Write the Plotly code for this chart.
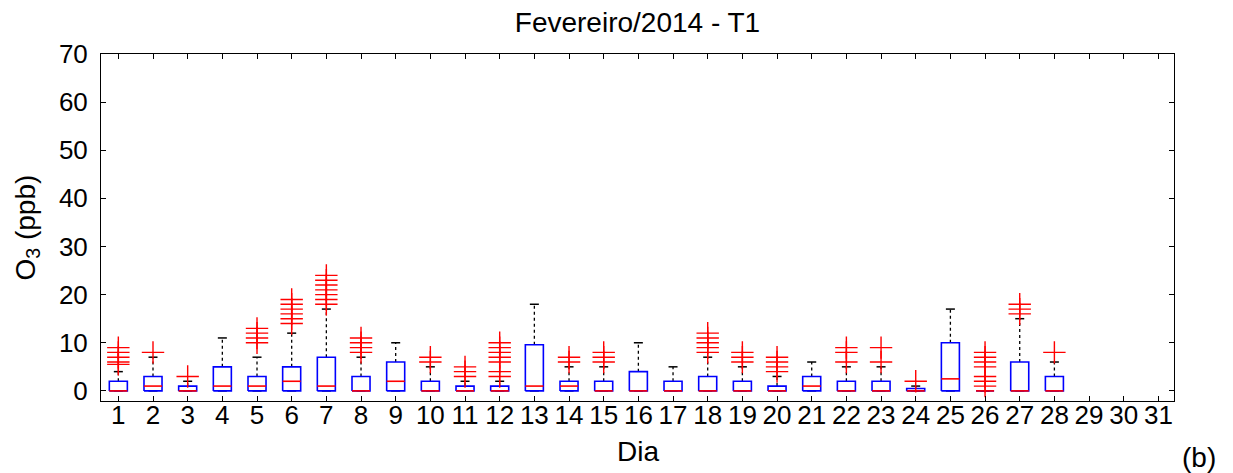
import plotly.graph_objects as go

# ---------------- data ----------------
days = list(range(1, 32))
box_days = list(range(1, 29))
q1 = [0] * 28
median = [0, 1, 0, 1, 1, 2, 1, 0, 2, 0, 0, 0, 1, 1, 0, 0, 0, 0, 0, 0, 1, 0, 0, 0, 2.5, 0, 0, 0]
q3 = [2, 3, 1, 5, 3, 5, 7, 3, 6, 2, 1, 1, 9.6, 2, 2, 4, 2, 3, 2, 1, 3, 2, 2, 0.5, 10, 0, 6, 3]
upper_whisker = [4, 7, 2, 11, 7, 12, 17, 7, 10, 5, 2, 2, 18, 5, 5, 10, 5, 7, 5, 3, 6, 5, 5, 1, 17, 0, 15, 6]
lower_whisker = [0] * 28
outliers = {
    1: [5.5, 6, 7, 8, 9], 2: [8], 3: [3], 5: [10, 11, 12, 13],
    6: [14, 15, 16, 17, 18, 19], 7: [18, 19, 20, 21, 22, 23, 24],
    8: [8, 9, 10, 11], 10: [6, 7], 11: [3, 4, 5], 12: [3, 4, 6, 7, 8, 9, 10],
    14: [6, 7], 15: [6, 7, 8], 18: [8, 9, 10, 11, 12], 19: [6, 7, 8],
    20: [4, 5, 6, 7], 22: [6, 8, 9], 23: [6, 9], 24: [2],
    26: [1, 2, 3, 5, 6, 7, 8], 27: [16, 17, 18], 28: [8],
}
title_text = "Fevereiro/2014 - T1"
x_label = "Dia"
y_label = "O<sub>3</sub> (ppb)"
y_ticks = [0, 10, 20, 30, 40, 50, 60, 70]

# ---------------- style ----------------
BOX_HW = 0.26
CAP_HW = 0.13
FONT = "Liberation Sans, Arial, sans-serif"
TICK_SIZE = 26
LABEL_SIZE = 28

fig = go.Figure()

# whiskers (dotted)
wx, wy = [], []
for d, lo, hi, l, u in zip(box_days, q1, q3, lower_whisker, upper_whisker):
    if u > hi:
        wx += [d, d, None]; wy += [hi, u, None]
    if l < lo:
        wx += [d, d, None]; wy += [l, lo, None]
fig.add_trace(go.Scatter(x=wx, y=wy, mode="lines",
                         line=dict(color="black", width=1.3, dash="dot"),
                         hoverinfo="skip", showlegend=False))

# whisker caps
cx, cy = [], []
for d, l, u in zip(box_days, lower_whisker, upper_whisker):
    cx += [d - CAP_HW, d + CAP_HW, None, d - CAP_HW, d + CAP_HW, None]
    cy += [u, u, None, l, l, None]
fig.add_trace(go.Scatter(x=cx, y=cy, mode="lines",
                         line=dict(color="black", width=1.5),
                         hoverinfo="skip", showlegend=False))

# boxes
bx, by = [], []
for d, lo, hi in zip(box_days, q1, q3):
    bx += [d - BOX_HW, d + BOX_HW, d + BOX_HW, d - BOX_HW, d - BOX_HW, None]
    by += [lo, lo, hi, hi, lo, None]
fig.add_trace(go.Scatter(x=bx, y=by, mode="lines",
                         line=dict(color="#0000ff", width=1.6),
                         hoverinfo="skip", showlegend=False))

# medians
mx, my = [], []
for d, m in zip(box_days, median):
    mx += [d - BOX_HW, d + BOX_HW, None]
    my += [m, m, None]
fig.add_trace(go.Scatter(x=mx, y=my, mode="lines",
                         line=dict(color="#ff0000", width=1.6),
                         hoverinfo="skip", showlegend=False))

# outliers
ox, oy = [], []
for d, vals in outliers.items():
    for v in vals:
        ox.append(d); oy.append(v)
fig.add_trace(go.Scatter(x=ox, y=oy, mode="markers",
                         marker=dict(symbol="cross-thin", size=16,
                                     line=dict(color="#ff0000", width=1.4)),
                         hoverinfo="skip", showlegend=False))

L, R, T, B = 101, 59, 54, 72
W, H = 1233, 473
pw = W - L - R
ph = H - T - B

fig.update_layout(
    width=W, height=H,
    margin=dict(l=L, r=R, t=T, b=B, pad=0),
    paper_bgcolor="white", plot_bgcolor="white",
    font=dict(family=FONT, size=TICK_SIZE, color="black"),
    showlegend=False,
    title=dict(text=title_text, x=0.5, xref="paper", xanchor="center",
               y=1 - 22 / H, yref="container", yanchor="middle",
               font=dict(family=FONT, size=LABEL_SIZE, color="black")),
    xaxis=dict(range=[0.5, 31.45], tickmode="array", tickvals=days,
               ticktext=[str(d) for d in days], ticks="inside", ticklen=5,
               tickcolor="black", showline=True, linecolor="black", linewidth=1,
               mirror="ticks", showgrid=False, zeroline=False,
               tickfont=dict(family=FONT, size=TICK_SIZE), ticklabelstandoff=-9,
               fixedrange=True),
    yaxis=dict(range=[-2.1, 70], tickmode="array", tickvals=y_ticks,
               ticktext=[str(v) for v in y_ticks], ticks="inside", ticklen=5,
               tickcolor="black", showline=True, linecolor="black", linewidth=1,
               mirror="ticks", showgrid=False, zeroline=False,
               tickfont=dict(family=FONT, size=TICK_SIZE), ticklabelstandoff=7,
               fixedrange=True),
    annotations=[
        dict(text=x_label, xref="paper", yref="paper",
             x=0.5, y=-(452 - (T + ph)) / ph, xanchor="center", yanchor="middle",
             showarrow=False, font=dict(family=FONT, size=LABEL_SIZE)),
        dict(text=y_label, xref="paper", yref="paper",
             x=(27 - L) / pw, y=0.5, xanchor="center", yanchor="middle",
             textangle=-90, showarrow=False, font=dict(family=FONT, size=LABEL_SIZE)),
        dict(text="(b)", xref="paper", yref="paper",
             x=(1199 - L) / pw, y=-(457 - (T + ph)) / ph,
             xanchor="center", yanchor="middle",
             showarrow=False, font=dict(family=FONT, size=LABEL_SIZE)),
    ],
)

fig.write_html("out.html")
